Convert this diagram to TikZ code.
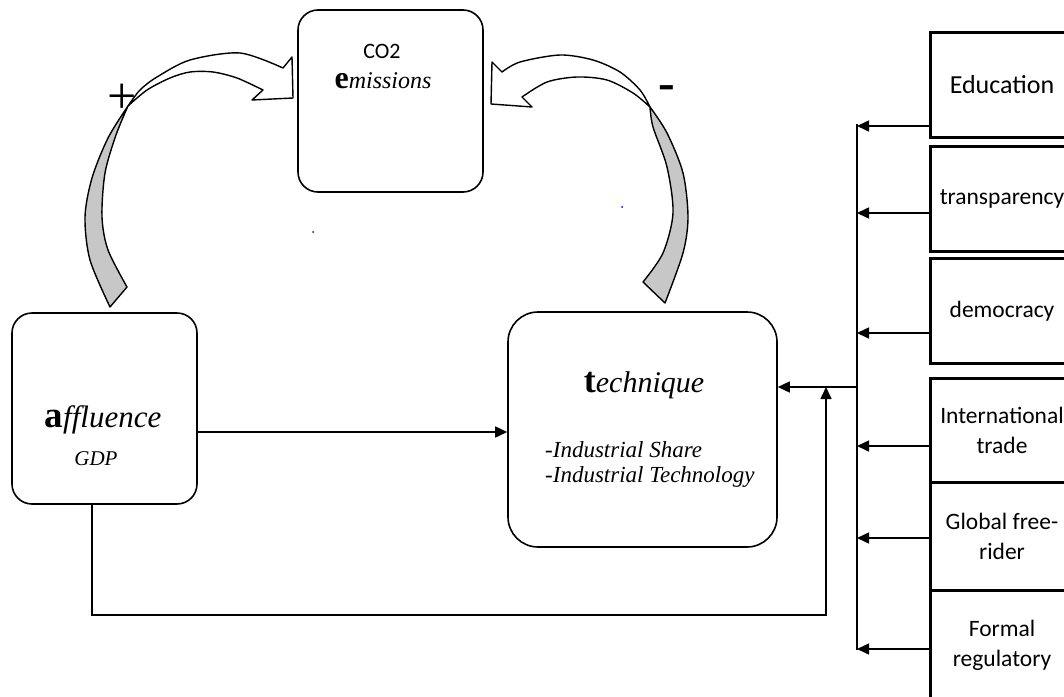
\documentclass[tikz,border=0pt]{standalone}
\usepackage{fontspec}
\setmainfont{Liberation Serif}
\newfontfamily\calib{Carlito}
\usepackage{tikz}
\usetikzlibrary{calc}
\usetikzlibrary{arrows.meta}
\tikzset{
	rbox/.style={draw, line width=1.6pt, rounded corners=20pt, inner sep=0pt},
	sbox/.style={draw, line width=3pt, minimum width=144pt, align=center, inner sep=0pt, font=\calib\fontsize{23.5}{30}\selectfont},
	link/.style={line width=1.6pt},
	ribbon/.style={draw, line width=1.4pt, line join=round},
}
\begin{document}
\begin{tikzpicture}[x=1pt,y=-1pt,>={Triangle[length=12pt,width=11pt]}]
	\useasboundingbox (0,0) rectangle (1064,696);
	\clip (0,0) rectangle (1064,696);
	\node[rbox, minimum width=185pt, minimum height=182pt] (emis) at (390.5,101) {};
	\node[rbox, minimum width=185pt, minimum height=191pt] (affl) at (104.5,408.5) {};
	\node[rbox, rounded corners=30pt, minimum width=269pt, minimum height=235pt] (tech) at (642.5,429.5) {};
	\node[anchor=base, font=\calib\fontsize{22}{26}\selectfont] (co2) at (382,58) {CO2};
	\node[anchor=base] (emisLbl) at (383,88) {{\fontsize{32}{36}\selectfont\bfseries e}{\fontsize{24}{28}\selectfont\itshape missions}};
	\node[anchor=base] (afflLbl) at (103,427) {{\fontsize{37}{40}\selectfont\bfseries a}{\fontsize{31}{34}\selectfont\itshape ffluence}};
	\node[anchor=base, font=\itshape\fontsize{21}{24}\selectfont] (gdp) at (96,465) {GDP};
	\node[anchor=base] (techLbl) at (644,392) {{\fontsize{36}{40}\selectfont\bfseries t}{\fontsize{30}{34}\selectfont\itshape echnique}};
	\node[anchor=west, align=left, inner sep=0pt, font=\itshape\fontsize{23}{25}\selectfont] (techList) at (545,464) {-Industrial Share\\-Industrial Technology};
	\node[font=\fontsize{52}{56}\selectfont] (plus) at (122,99) {+};
	\node[font=\fontsize{50}{54}\selectfont\bfseries] (minus) at (667,93) {-};
	\draw[ribbon, fill=black!22] plot[smooth] coordinates {(128,106) (108,138) (92,178) (85,217) (90,260) (110,307)} -- plot[smooth] coordinates {(127,287) (108,250) (102,217) (105,173) (116,135) (128,106)} -- cycle;
	\draw[ribbon, fill=white] plot[smooth] coordinates {(128,106) (140,90) (157,77) (190,60) (240,53) (283,68)} -- (292,57) -- (293,98) -- (252,100) -- plot[smooth] coordinates {(263,90) (237,78) (213,72) (190,72) (170,78) (147,90) (128,106)} -- cycle;
	\draw[ribbon, fill=black!22] plot[smooth] coordinates {(650,107) (667,133) (683,173) (688,217) (683,253) (665,303)} -- plot[smooth] coordinates {(643,282) (663,253) (673,213) (667,167) (653,127) (650,107)} -- cycle;
	\draw[ribbon, fill=white] plot[smooth] coordinates {(650,107) (640,90) (620,72) (593,60) (560,55) (520,62) (502,72)} -- (492,62) -- (491,104) -- (532,107) -- plot[smooth] coordinates {(522,97) (547,82) (577,77) (607,80) (633,93) (650,107)} -- cycle;
	\fill[blue] (313,232) circle (1pt);
	\fill[blue] (622,207) circle (1pt);
	\node[sbox, minimum height=105pt, font=\calib\fontsize{26}{30}\selectfont] (educ) at (1002,84.5) {Education};
	\node[sbox, minimum height=105pt] (transp) at (1002,198.5) {transparency};
	\node[sbox, minimum height=105pt] (democ) at (1002,311) {democracy};
	\node[sbox, minimum height=104pt] (trade) at (1002,430) {International\\trade};
	\node[sbox, minimum height=108pt] (rider) at (1002,536) {Global free-\\rider};
	\node[sbox, minimum height=110pt] (regul) at (1002,645) {Formal\\regulatory};
	\coordinate (busTop) at (857,124);
	\coordinate (busBot) at (857,650);
	\coordinate (busTech) at (857,387);
	\coordinate (fbCorner) at (826,615);
	\draw[link] (busTop) -- (busBot);
	\foreach \n/\y in {educ/126, transp/213, democ/333, trade/446, rider/538, regul/649}
		\draw[link,->] (\n.west |- 0,\y) -- (busTop |- 0,\y);
	\draw[link,->] (busTech) -- (tech.east |- busTech);
	\draw[link,->] (affl.east |- 0,432) -- (tech.west |- 0,432);
	\draw[link,->] (affl.south -| 92,0) |- (fbCorner) -- (fbCorner |- busTech);
\end{tikzpicture}
\end{document}
